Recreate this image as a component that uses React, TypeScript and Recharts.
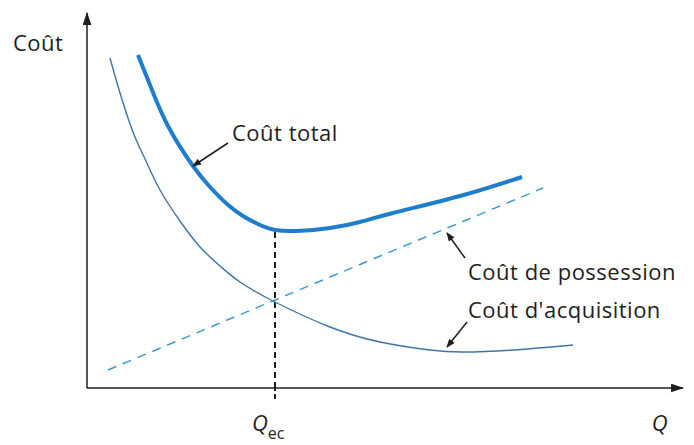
import { ComposedChart, Line, XAxis, YAxis, ReferenceLine, ReferenceDot } from "recharts";

const FONT = "'Open Sans', 'Noto Sans', sans-serif";
const INK = "#1e1e1e";

// Q (horizontal) and cost (vertical), in chart units
const TOTAL_Q = [51, 63, 81, 106, 123, 140, 156, 173, 188, 210, 243, 273, 306, 373, 435];
const TOTAL_C = [333, 303, 262, 222, 201, 184, 172, 163, 158, 157, 160, 166, 175, 192, 211];

const ACQ_Q = [23, 33, 46, 58, 73, 93, 113, 133, 153, 188, 243, 293, 343, 376, 426, 486];
const ACQ_C = [330, 295, 256, 229, 198, 167, 141, 122, 106, 86, 61, 46, 38, 36, 38, 43];

const POSS_Q = [21, 188, 456];
const POSS_C = [18, 88, 200];

const Q_EC = 188;
const COST_AT_QEC = 158;

const toRows = (qs: number[], cs: number[]) => qs.map((q, i) => ({ q, c: cs[i] }));
const totalData = toRows(TOTAL_Q, TOTAL_C);
const acqData = toRows(ACQ_Q, ACQ_C);
const possData = toRows(POSS_Q, POSS_C);

const textStyle = { fill: INK, fontSize: 22, fontFamily: FONT, letterSpacing: 0.5 };

function QecTick({ x, y }: any) {
  return (
    <text x={x - 23} y={y + 30} fill={INK} fontFamily={FONT} fontSize={22}>
      <tspan fontStyle="italic">Q</tspan>
      <tspan dy={8} fontSize={16}>ec</tspan>
    </text>
  );
}

export default function App() {
  return (
    <div style={{ position: "absolute", left: 0, top: 0, background: "#fff" }}>
      <ComposedChart
        width={694}
        height={445}
        margin={{ top: 13, right: 11, bottom: 27, left: 86 }}
      >
        <defs>
          <marker
            id="axisArrow"
            viewBox="0 0 12 8"
            refX="11"
            refY="4"
            markerWidth="13"
            markerHeight="9"
            markerUnits="userSpaceOnUse"
            orient="auto-start-reverse"
          >
            <path d="M0,0 L12,4 L0,8 z" fill={INK} />
          </marker>
          <marker
            id="noteArrow"
            viewBox="0 0 10 8"
            refX="9"
            refY="4"
            markerWidth="10"
            markerHeight="7"
            markerUnits="userSpaceOnUse"
            orient="auto"
          >
            <path d="M0,0 L10,4 L0,8 z" fill={INK} />
          </marker>
        </defs>
        <XAxis
          dataKey="q"
          type="number"
          domain={[0, 596]}
          ticks={[Q_EC]}
          tick={<QecTick />}
          tickSize={11}
          tickLine={{ stroke: INK, strokeWidth: 2, strokeDasharray: "5 3" }}
          axisLine={{ stroke: INK, strokeWidth: 1.5, markerEnd: "url(#axisArrow)" }}
          height={30}
          allowDataOverflow
        />
        <YAxis
          dataKey="c"
          type="number"
          domain={[0, 375]}
          width={1}
          tick={false}
          tickLine={false}
          axisLine={{ stroke: INK, strokeWidth: 1.5, markerStart: "url(#axisArrow)" }}
          allowDataOverflow
        />

        <ReferenceLine
          segment={[
            { x: Q_EC, y: 0 },
            { x: Q_EC, y: COST_AT_QEC },
          ]}
          stroke={INK}
          strokeWidth={2}
          strokeDasharray="6 4"
        />

        <Line
          data={possData}
          dataKey="c"
          type="linear"
          stroke="#3d9ad6"
          strokeWidth={1.5}
          strokeDasharray="9 7"
          dot={false}
          activeDot={false}
          isAnimationActive={false}
        />
        <Line
          data={acqData}
          dataKey="c"
          type="natural"
          stroke="#3f74a8"
          strokeWidth={1.4}
          dot={false}
          activeDot={false}
          isAnimationActive={false}
        />
        <Line
          data={totalData}
          dataKey="c"
          type="natural"
          stroke="#1f7ecb"
          strokeWidth={4}
          dot={false}
          activeDot={false}
          isAnimationActive={false}
        />

        {/* annotation arrows */}
        <ReferenceLine
          segment={[
            { x: 141, y: 245 },
            { x: 106, y: 222 },
          ]}
          stroke={INK}
          strokeWidth={1.5}
          markerEnd="url(#noteArrow)"
        />
        <ReferenceLine
          segment={[
            { x: 378, y: 130 },
            { x: 360, y: 155 },
          ]}
          stroke={INK}
          strokeWidth={1.5}
          markerEnd="url(#noteArrow)"
        />
        <ReferenceLine
          segment={[
            { x: 380, y: 66 },
            { x: 360, y: 41 },
          ]}
          stroke={INK}
          strokeWidth={1.5}
          markerEnd="url(#noteArrow)"
        />

        {/* text labels */}
        <ReferenceDot x={-74} y={345} r={0} ifOverflow="visible"
          label={{ value: "Coût", position: "right", offset: 0, ...textStyle }} />
        <ReferenceDot x={145} y={255} r={0} ifOverflow="visible"
          label={{ value: "Coût total", position: "right", offset: 0, ...textStyle }} />
        <ReferenceDot x={381} y={116} r={0} ifOverflow="visible"
          label={{ value: "Coût de possession", position: "right", offset: 0, ...textStyle }} />
        <ReferenceDot x={381} y={78} r={0} ifOverflow="visible"
          label={{ value: "Coût d'acquisition", position: "right", offset: 0, ...textStyle }} />
        <ReferenceDot x={573} y={-35} r={0} ifOverflow="visible"
          label={{ value: "Q", position: "center", offset: 0, fontStyle: "italic", ...textStyle }} />
      </ComposedChart>
    </div>
  );
}
